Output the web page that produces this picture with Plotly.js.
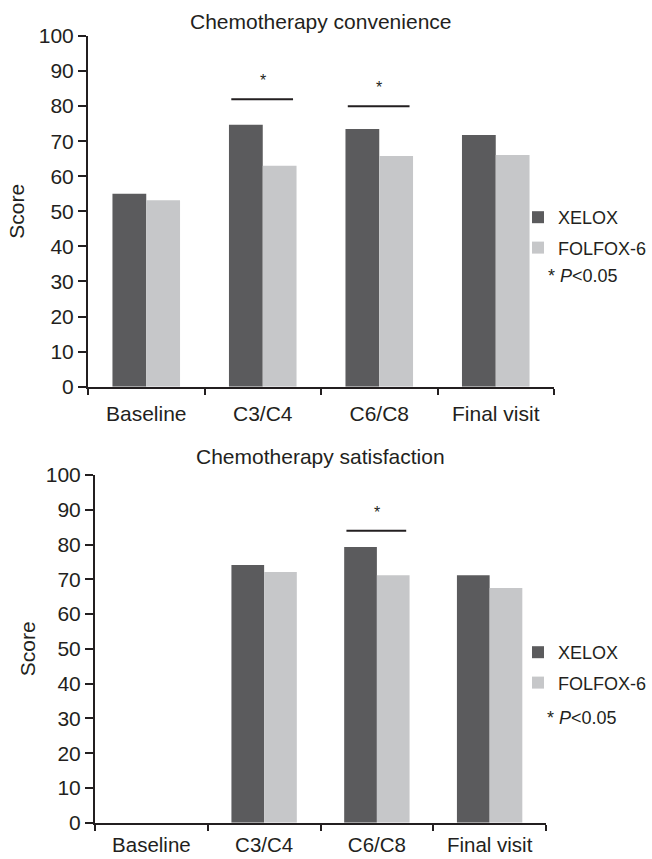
<!DOCTYPE html>
<html><head><meta charset="utf-8">
<script src="https://cdn.plot.ly/plotly-3.0.1.min.js"></script>
<style>html,body{margin:0;padding:0;background:#fff}#chart{width:652px;height:859px}</style>
</head><body><div id="chart"></div>
<script>
// ---- data ----
const categories = ["Baseline", "C3/C4", "C6/C8", "Final visit"];
const seriesNames = ["XELOX", "FOLFOX-6"];
const panelTitles = ["Chemotherapy convenience", "Chemotherapy satisfaction"];
const convenienceXELOX = [55.0, 74.7, 73.5, 71.8];
const convenienceFOLFOX = [53.2, 63.0, 65.8, 66.1];
const satisfactionXELOX = [null, 74.1, 79.3, 71.2];
const satisfactionFOLFOX = [null, 72.1, 71.2, 67.5];
const convenienceSigCats = ["C3/C4", "C6/C8"];
const convenienceSigLevels = [82, 80];
const satisfactionSigCats = ["C6/C8"];
const satisfactionSigLevels = [84];
const sigNote = "* <i>P</i>&lt;0.05";

// ---- style ----
const DARK = "#5b5b5d", LIGHT = "#c6c7c9", INK = "#231f20";
const FONT = "Liberation Sans, Arial, Helvetica, sans-serif";
const FS = 21;

function bars(y, name, color, xa, ya, legend, group) {
  return {type: "bar", x: categories, y: y, name: name, xaxis: xa, yaxis: ya,
    marker: {color: color, line: {width: 0}}, legend: legend, legendgroup: group,
    hoverinfo: "skip"};
}
const data = [
  bars(convenienceXELOX, seriesNames[0], DARK, "x", "y", "legend", "a1"),
  bars(convenienceFOLFOX, seriesNames[1], LIGHT, "x", "y", "legend", "b1"),
  bars(satisfactionXELOX, seriesNames[0], DARK, "x2", "y2", "legend2", "a2"),
  bars(satisfactionFOLFOX, seriesNames[1], LIGHT, "x2", "y2", "legend2", "b2")
];

function xax(domain, anchor, standoff, fs) {
  return {domain: domain, anchor: anchor, type: "category", categoryarray: categories,
    categoryorder: "array", range: [-0.5, 3.5], tickson: "boundaries", ticks: "outside",
    ticklen: 6, tickwidth: 2, tickcolor: INK, showline: true, linewidth: 2, linecolor: INK,
    showgrid: false, zeroline: false, tickfont: {size: fs, color: INK, family: FONT},
    ticklabelstandoff: standoff, fixedrange: true};
}
function yax(domain, anchor, standoff) {
  return {domain: domain, anchor: anchor, range: [0, 100], dtick: 10, tick0: 0,
    ticks: "outside", ticklen: 8, tickwidth: 2, tickcolor: INK, showline: true,
    linewidth: 2, linecolor: INK, showgrid: false, zeroline: false,
    tickfont: {size: FS, color: INK, family: FONT},
    title: {text: "Score", font: {size: FS, color: INK, family: FONT}, standoff: standoff},
    fixedrange: true};
}

const shapes = [], annotations = [];
function addSig(cats, levels, xr, yr) {
  cats.forEach((c, i) => {
    const idx = categories.indexOf(c);
    shapes.push({type: "line", xref: xr, yref: yr, x0: idx - 0.27, x1: idx + 0.26,
      y0: levels[i], y1: levels[i], line: {color: INK, width: 2}});
    annotations.push({xref: xr, yref: yr, x: idx, y: levels[i] + 5.2, yanchor: "middle",
      text: "*", showarrow: false, font: {size: 16, color: INK, family: FONT}});
  });
}
addSig(convenienceSigCats, convenienceSigLevels, "x", "y");
addSig(satisfactionSigCats, satisfactionSigLevels, "x2", "y2");

annotations.push({xref: "x domain", yref: "paper", x: 0.5, y: 1 - 22 / 859, yanchor: "middle",
  text: panelTitles[0], showarrow: false, font: {size: FS, color: INK, family: FONT}});
annotations.push({xref: "x2 domain", yref: "paper", x: 0.5, y: 1 - 456 / 859, yanchor: "middle",
  text: panelTitles[1], showarrow: false, font: {size: FS, color: INK, family: FONT}});
annotations.push({xref: "paper", yref: "paper", x: 546 / 652, y: 1 - 276 / 859, xanchor: "left",
  yanchor: "middle", text: sigNote, showarrow: false, font: {size: 18, color: INK, family: FONT}});
annotations.push({xref: "paper", yref: "paper", x: 545 / 652, y: 1 - 718 / 859, xanchor: "left",
  yanchor: "middle", text: sigNote, showarrow: false, font: {size: 18, color: INK, family: FONT}});

const legendStyle = (x, y) => ({x: x, xanchor: "right", y: y, yanchor: "top",
  bgcolor: "rgba(0,0,0,0)", font: {size: 18, color: INK, family: FONT},
  traceorder: "grouped", tracegroupgap: 4});

const layout = {
  width: 652, height: 859, margin: {l: 0, r: 0, t: 0, b: 0},
  paper_bgcolor: "#fff", plot_bgcolor: "#fff", font: {family: FONT, color: INK},
  barmode: "group", bargap: 0.42, bargroupgap: 0,
  xaxis: xax([88 / 652, 554 / 652], "y", 7, FS),
  yaxis: yax([1 - 386.7 / 859, 1 - 36 / 859], "x", 8),
  xaxis2: xax([95 / 652, 546 / 652], "y2", 3, 20.5),
  yaxis2: yax([1 - 822.7 / 859, 1 - 475 / 859], "x2", 4),
  legend: legendStyle(1, 1 - 199 / 859),
  legend2: legendStyle(1, 1 - 634 / 859),
  shapes: shapes, annotations: annotations, showlegend: true
};
Plotly.newPlot("chart", data, layout, {displayModeBar: false, staticPlot: true});
</script></body></html>
